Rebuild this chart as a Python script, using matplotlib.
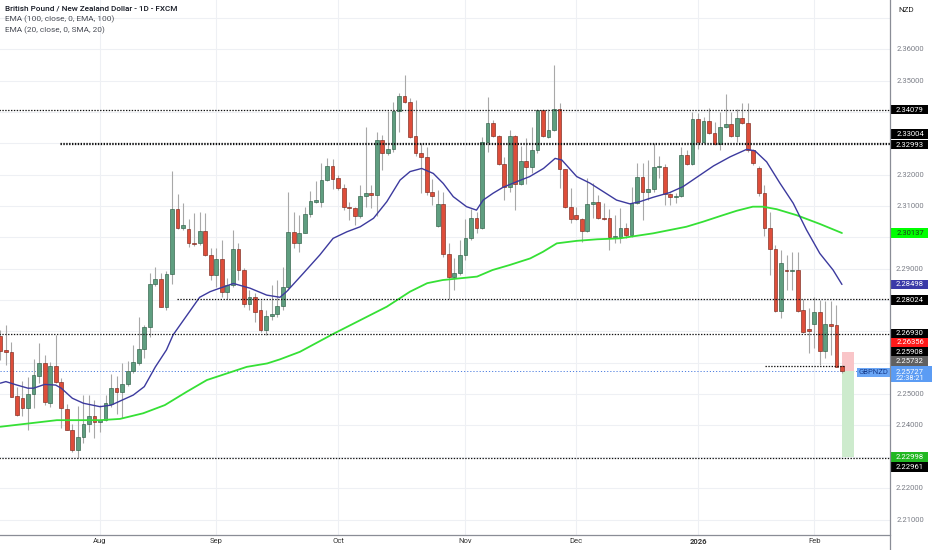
import matplotlib
matplotlib.use('Agg')
import matplotlib.pyplot as plt
import matplotlib.transforms as mtransforms
from matplotlib.patches import Rectangle
import numpy as np
import pandas as pd

plt.rcParams['font.family'] = ['Roboto', 'DejaVu Sans']

# ---------------- data ----------------
opens = [2.2685, 2.2641, 2.2633, 2.2494, 2.2489, 2.2456, 2.2499, 2.2558, 2.2598, 2.2473,
         2.2591, 2.2540, 2.2453, 2.2386, 2.2322, 2.2363, 2.2405, 2.2431, 2.2412, 2.2418,
         2.2470, 2.2519, 2.2508, 2.2531, 2.2575, 2.2600, 2.2644, 2.2715, 2.2851, 2.2866,
         2.2779, 2.2883, 2.3090, 2.3029, 2.3026, 2.2981, 2.2981, 2.3020, 2.2944, 2.2880,
         2.2930, 2.2827, 2.2848, 2.2962, 2.2896, 2.2788, 2.2811, 2.2768, 2.2705, 2.2749,
         2.2756, 2.2781, 2.2843, 2.3018, 2.2981, 2.3015, 2.3075, 2.3114, 2.3114, 2.3183,
         2.3228, 2.3188, 2.3157, 2.3098, 2.3093, 2.3068, 2.3132, 2.3141, 2.3135, 2.3311,
         2.3270, 2.3281, 2.3404, 2.3451, 2.3433, 2.3323, 2.3270, 2.3257, 2.3146, 2.3037,
         2.3107, 2.2946, 2.2875, 2.2887, 2.2944, 2.2999, 2.3063, 2.3029, 2.3305, 2.3366,
         2.3323, 2.3234, 2.3160, 2.3323, 2.3170, 2.3245, 2.3226, 2.3279, 2.3406, 2.3319,
         2.3343, 2.3410, 2.3217, 2.3098, 2.3071, 2.3058, 2.3021, 2.3107, 2.3114, 2.3061,
         2.3061, 2.3000, 2.3002, 2.3029, 2.3008, 2.3109, 2.3192, 2.3146, 2.3153, 2.3223,
         2.3224, 2.3138, 2.3130, 2.3132, 2.3263, 2.3234, 2.3377, 2.3305, 2.3372, 2.3332,
         2.3298, 2.3351, 2.3362, 2.3323, 2.3382, 2.3364, 2.3279, 2.3221, 2.3143, 2.3029,
         2.2962, 2.2766, 2.2896, 2.2892, 2.2896, 2.2768, 2.2707, 2.2724, 2.2763, 2.2639,
         2.2724, 2.2721, 2.2590]
closes = [2.2638, 2.2633, 2.2492, 2.2433, 2.2457, 2.2499, 2.2561, 2.2598, 2.2476, 2.2591,
          2.2540, 2.2455, 2.2387, 2.2322, 2.2363, 2.2406, 2.2431, 2.2411, 2.2419, 2.2471,
          2.2519, 2.2508, 2.2532, 2.2574, 2.2601, 2.2644, 2.2715, 2.2851, 2.2866, 2.2779,
          2.2883, 2.3090, 2.3029, 2.3040, 2.2981, 2.2979, 2.3020, 2.2944, 2.2880, 2.2930,
          2.2827, 2.2848, 2.2962, 2.2896, 2.2788, 2.2811, 2.2763, 2.2705, 2.2749, 2.2756,
          2.2781, 2.2843, 2.3018, 2.2981, 2.3015, 2.3075, 2.3117, 2.3119, 2.3183, 2.3228,
          2.3185, 2.3157, 2.3098, 2.3093, 2.3068, 2.3132, 2.3141, 2.3135, 2.3311, 2.3270,
          2.3281, 2.3404, 2.3451, 2.3433, 2.3321, 2.3268, 2.3257, 2.3146, 2.3132, 2.3107,
          2.2946, 2.2875, 2.2887, 2.2944, 2.2999, 2.3063, 2.3029, 2.3305, 2.3366, 2.3323,
          2.3234, 2.3160, 2.3323, 2.3170, 2.3245, 2.3226, 2.3279, 2.3406, 2.3323, 2.3343,
          2.3410, 2.3217, 2.3098, 2.3058, 2.3058, 2.3021, 2.3107, 2.3114, 2.3061, 2.3060,
          2.3000, 2.3004, 2.3029, 2.3008, 2.3109, 2.3192, 2.3146, 2.3153, 2.3226, 2.3226,
          2.3138, 2.3130, 2.3132, 2.3263, 2.3234, 2.3377, 2.3305, 2.3372, 2.3332, 2.3298,
          2.3351, 2.3362, 2.3323, 2.3382, 2.3364, 2.3279, 2.3236, 2.3143, 2.3029, 2.2962,
          2.2766, 2.2917, 2.2892, 2.2894, 2.2766, 2.2699, 2.2702, 2.2763, 2.2639, 2.2724,
          2.2717, 2.2588, 2.25727]
highs = [2.2705, 2.2721, 2.2667, 2.2523, 2.2542, 2.2555, 2.2611, 2.2664, 2.2625, 2.2603,
         2.2689, 2.2552, 2.2470, 2.2405, 2.2462, 2.2497, 2.2497, 2.2481, 2.2465, 2.2497,
         2.2564, 2.2558, 2.2599, 2.2606, 2.2657, 2.2747, 2.2721, 2.2886, 2.2905, 2.2886,
         2.2894, 2.3213, 2.3138, 2.3111, 2.3058, 2.3079, 2.3082, 2.3077, 2.2965, 2.2965,
         2.2992, 2.2870, 2.3024, 2.2981, 2.2902, 2.2832, 2.2822, 2.2800, 2.2768, 2.2848,
         2.2864, 2.2905, 2.3146, 2.3082, 2.3071, 2.3098, 2.3149, 2.3181, 2.3236, 2.3252,
         2.3249, 2.3199, 2.3170, 2.3114, 2.3097, 2.3167, 2.3353, 2.3167, 2.3337, 2.3327,
         2.3404, 2.3433, 2.3460, 2.3518, 2.3444, 2.3438, 2.3300, 2.3287, 2.3185, 2.3151,
         2.3146, 2.2981, 2.2933, 2.2992, 2.3058, 2.3090, 2.3082, 2.3319, 2.3447, 2.3375,
         2.3327, 2.3257, 2.3343, 2.3327, 2.3292, 2.3316, 2.3353, 2.3410, 2.3410, 2.3409,
         2.3550, 2.3428, 2.3218, 2.3157, 2.3098, 2.3062, 2.3189, 2.3173, 2.3135, 2.3109,
         2.3090, 2.3071, 2.3093, 2.3046, 2.3162, 2.3236, 2.3236, 2.3247, 2.3300, 2.3260,
         2.3234, 2.3142, 2.3142, 2.3289, 2.3279, 2.3401, 2.3396, 2.3385, 2.3412, 2.3369,
         2.3401, 2.3457, 2.3401, 2.3409, 2.3430, 2.3428, 2.3282, 2.3228, 2.3167, 2.3082,
         2.2976, 2.2960, 2.2944, 2.2954, 2.2954, 2.2803, 2.2774, 2.2811, 2.2800, 2.2798,
         2.2798, 2.2784, 2.2593]
lows = [2.2609, 2.2593, 2.2491, 2.2430, 2.2430, 2.2386, 2.2456, 2.2536, 2.2465, 2.2460,
        2.2536, 2.2392, 2.2386, 2.2316, 2.2296, 2.2344, 2.2379, 2.2360, 2.2379, 2.2415,
        2.2459, 2.2437, 2.2424, 2.2526, 2.2567, 2.2593, 2.2615, 2.2683, 2.2845, 2.2778,
        2.2768, 2.2851, 2.3027, 2.3024, 2.2970, 2.2972, 2.2976, 2.2941, 2.2864, 2.2843,
        2.2811, 2.2803, 2.2843, 2.2864, 2.2779, 2.2768, 2.2731, 2.2699, 2.2689, 2.2737,
        2.2747, 2.2768, 2.2832, 2.2965, 2.2954, 2.3014, 2.3066, 2.3110, 2.3098, 2.3180,
        2.3153, 2.3151, 2.3087, 2.3056, 2.3040, 2.3062, 2.3098, 2.3093, 2.3068, 2.3215,
        2.3263, 2.3273, 2.3337, 2.3428, 2.3317, 2.3260, 2.3141, 2.3135, 2.3103, 2.3034,
        2.2938, 2.2803, 2.2832, 2.2880, 2.2928, 2.2992, 2.3013, 2.3026, 2.3273, 2.3320,
        2.3231, 2.3119, 2.3146, 2.3087, 2.3167, 2.3170, 2.3205, 2.3268, 2.3319, 2.3316,
        2.3340, 2.3157, 2.3093, 2.3045, 2.3056, 2.2986, 2.3018, 2.3061, 2.3058, 2.3056,
        2.2960, 2.2981, 2.2982, 2.2997, 2.3002, 2.3107, 2.3056, 2.3119, 2.3146, 2.3189,
        2.3103, 2.3103, 2.3109, 2.3129, 2.3231, 2.3231, 2.3281, 2.3301, 2.3330, 2.3295,
        2.3279, 2.3349, 2.3319, 2.3305, 2.3362, 2.3273, 2.3231, 2.3132, 2.3005, 2.2880,
        2.2763, 2.2742, 2.2832, 2.2832, 2.2763, 2.2696, 2.2630, 2.2646, 2.2593, 2.2614,
        2.2625, 2.2586, 2.2568]

ema100_idx = [0, 10.2, 18, 21.6, 25.8, 29.7, 33.7, 37.3, 40.9, 44.5,
              48.2, 50.5, 54.1, 60.1, 69.8, 74, 77.1, 79.9, 86.1, 88.9,
              92, 95.7, 98, 100.5, 104.1, 107.8, 111.9, 117.9, 123.9, 126.9,
              130, 133, 135.9, 137.7, 140.2, 143.8, 148, 152]
ema100_val = [2.2396, 2.2417, 2.2417, 2.2421, 2.2439, 2.2465, 2.2508, 2.2545, 2.2566, 2.2587,
              2.2598, 2.2611, 2.2635, 2.2692, 2.2779, 2.2827, 2.2854, 2.2864, 2.2875, 2.2896,
              2.2912, 2.2933, 2.2954, 2.2981, 2.2989, 2.2994, 2.2997, 2.3013, 2.3034, 2.3050,
              2.3068, 2.3085, 2.3098, 2.3098, 2.3090, 2.3071, 2.3043, 2.3014]

ema20_idx = [0, 1, 3, 5, 6, 8, 10, 11, 13, 15,
             18, 20, 22, 24, 26, 28, 30, 31.2, 33.6, 36,
             37.9, 39, 42.1, 45.1, 48.1, 50.5, 51.7, 54.7, 57.7, 60.1,
             62.6, 65, 67.4, 69.8, 72.2, 74, 76.1, 78.2, 80, 81.8,
             84.2, 86, 87.2, 89, 90.8, 93.3, 95.6, 98.1, 100.2, 101.4,
             104.1, 106.5, 108.9, 111.3, 113.7, 115.5, 117.9, 120.9, 123.3, 125.8,
             128.8, 131.8, 134.8, 136.3, 138.4, 140.8, 143.2, 145.6, 148, 150.4, 152]
ema20_val = [2.2535, 2.2540, 2.2529, 2.2519, 2.2519, 2.2531, 2.2529, 2.2519, 2.2487, 2.2471,
             2.2460, 2.2465, 2.2481, 2.2497, 2.2524, 2.2587, 2.2641, 2.2689, 2.2749, 2.2809,
             2.2827, 2.2834, 2.2853, 2.2838, 2.2816, 2.2809, 2.2827, 2.2885, 2.2944, 2.2997,
             2.3018, 2.3034, 2.3061, 2.3114, 2.3183, 2.3210, 2.3220, 2.3204, 2.3172, 2.3130,
             2.3098, 2.3087, 2.3119, 2.3141, 2.3160, 2.3178, 2.3194, 2.3220, 2.3252, 2.3247,
             2.3194, 2.3173, 2.3146, 2.3119, 2.3107, 2.3114, 2.3128, 2.3143, 2.3162, 2.3192,
             2.3228, 2.3257, 2.3281, 2.3276, 2.3241, 2.3173, 2.3109, 2.3024, 2.2949, 2.2896, 2.2850]

price_ticks = [2.21, 2.22, 2.23, 2.24, 2.25, 2.26, 2.27, 2.28, 2.29, 2.30,
               2.31, 2.32, 2.33, 2.34, 2.35, 2.36, 2.37]

# horizontal levels: (price, start bar, end bar or None = to the edge)
levels = [(2.34079, -1, None), (2.33004, 10.8, None), (2.32993, 10.8, None),
          (2.28024, 31.9, None), (2.26930, -1, None), (2.25908, 138.1, 152.5),
          (2.22961, -1, None)]
last_price = 2.25727
pos_entry, pos_stop, pos_target = 2.25732, 2.26356, 2.22998
pos_start, pos_end = 152.1, 154.2

# price tags on the right scale: (price, background, text colour, shift in px)
tags = [(2.34079, '#000000', '#ffffff', 0), (2.33004, '#000000', '#ffffff', 9),
        (2.32993, '#000000', '#ffffff', -1), (2.30137, '#00ff00', '#1b3a1b', 0),
        (2.28498, '#3a3aa8', '#ffffff', 0), (2.28024, '#000000', '#ffffff', -0.7),
        (2.26930, '#000000', '#ffffff', 0.3), (2.26356, '#ff1a1a', '#ffffff', 9.3),
        (2.25908, '#000000', '#ffffff', 14), (2.25732, '#606060', '#ffffff', 10.2),
        (2.22998, '#22b822', '#ffffff', 0.2), (2.22961, '#000000', '#ffffff', -8.7)]

title = 'British Pound / New Zealand Dollar - 1D - FXCM'
legend_lines = ['EMA (100, close, 0, EMA, 100)', 'EMA (20, close, 0, SMA, 20)']
symbol = 'GBPNZD'
countdown = '22:38:21'
currency = 'NZD'

# ---------------- figure ----------------
dates = pd.bdate_range('2025-07-08', '2026-02-09')
dates = dates[~dates.isin(pd.to_datetime(['2025-12-25', '2026-01-01']))]
n = len(opens)
x = np.arange(n)

W, H = 932, 550
PR, PB = 890, 535
fig = plt.figure(figsize=(W / 100, H / 100), dpi=100)
fig.patch.set_facecolor('white')
ax = fig.add_axes([0, (H - PB) / H, PR / W, PB / H])
ymin, ymax = 2.20507, 2.37573
ax.set_ylim(ymin, ymax)
ax.set_xlim(-0.06, 160.68)
pxu = (ymax - ymin) / PB

for s in ax.spines.values():
    s.set_visible(False)
ax.set_yticks([])

# grid
for p in price_ticks:
    ax.axhline(p, color='#eef0f4', lw=0.8, zorder=0)
month_idx, month_lab = [], []
for i in range(1, len(dates)):
    if dates[i].month != dates[i - 1].month:
        month_idx.append(i)
        month_lab.append(str(dates[i].year) if dates[i].month == 1 else dates[i].strftime('%b'))
for i in month_idx:
    ax.axvline(i, color='#eef0f4', lw=0.8, zorder=0)
ax.set_xticks(month_idx)
ax.set_xticklabels(month_lab, fontsize=5.5, color='#333333')
for t, lab in zip(ax.get_xticklabels(), month_lab):
    if lab.isdigit():
        t.set_fontweight('bold')
ax.tick_params(axis='x', length=0, pad=2.2)

# candles
o = np.array(opens); c = np.array(closes); hi = np.array(highs); lo = np.array(lows)
up = c >= o
ax.vlines(x, lo, hi, color='#a8a8a8', lw=0.8, zorder=2)
body_b = np.minimum(o, c)
body_h = np.maximum(np.abs(c - o), 1.0 * pxu)
ax.bar(x[up], body_h[up], bottom=body_b[up], width=0.68, color='#5f9e80',
       edgecolor='#2f5f47', linewidth=0.45, zorder=3)
ax.bar(x[~up], body_h[~up], bottom=body_b[~up], width=0.68, color='#de4d3a',
       edgecolor='#7a2a1f', linewidth=0.45, zorder=3)

# moving averages
ax.plot(ema100_idx, ema100_val, color='#35e035', lw=1.3, zorder=4, solid_capstyle='round')
ax.plot(ema20_idx, ema20_val, color='#3c3a9e', lw=1.0, zorder=4, solid_capstyle='round')

# horizontal levels
xl = ax.get_xlim()
for p, a, b in levels:
    ax.plot([a, xl[1] if b is None else b], [p, p], color='#111111', lw=0.9,
            linestyle=(0, (1.1, 1.2)), zorder=5)
ax.axhline(last_price, color='#4f7fe0', lw=0.7, linestyle=(0, (1.2, 2.0)), zorder=1)

# position tool
ax.add_patch(Rectangle((pos_start, pos_entry), pos_end - pos_start, pos_stop - pos_entry,
                       facecolor='#f9c5c8', edgecolor='none', zorder=1))
ax.add_patch(Rectangle((pos_start, pos_target), pos_end - pos_start, pos_entry - pos_target,
                       facecolor='#cdebcd', edgecolor='none', zorder=1))
ax.set_xlim(xl)

# ---------------- right price scale ----------------
tr = mtransforms.blended_transform_factory(fig.transFigure, ax.transData)
lab_x = 910 / W
tag_pos = [p + dy * pxu for p, _, _, dy in tags] + [last_price - 1 * pxu, last_price - 7 * pxu]
for p in price_ticks:
    if p + 22 * pxu > ymax:
        continue  # hidden under the currency header
    if min(abs(p - q) for q in tag_pos) < 8.5 * pxu:
        continue  # hidden under a price tag
    ax.text(lab_x, p, f'{p:.5f}', transform=tr, ha='center', va='center',
            fontsize=5.5, color='#7a7d86', clip_on=False, zorder=6)

bx0, bx1 = 890.8 / W, 927.5 / W
bh = 9.6 * pxu
for p, bg, fg, dy in tags:
    yc = p + dy * pxu
    ax.add_patch(Rectangle((bx0, yc - bh / 2), bx1 - bx0, bh, transform=tr,
                           facecolor=bg, edgecolor='none', clip_on=False, zorder=10))
    ax.text(lab_x, yc, f'{p:.5f}', transform=tr, ha='center', va='center',
            fontsize=5.5, color=fg, clip_on=False, zorder=11)

# last price tag with countdown
yc = last_price - 1 * pxu
ax.add_patch(Rectangle((bx0, yc - 9.6 * pxu), 1 - bx0, 15.6 * pxu, transform=tr,
                       facecolor='#5b9cf4', edgecolor='none', clip_on=False, zorder=10))
ax.text(lab_x, yc + 0.3 * pxu, f'{last_price:.5f}', transform=tr, ha='center', va='center',
        fontsize=5.5, color='#ffffff', clip_on=False, zorder=11)
ax.text(lab_x, yc - 5.9 * pxu, countdown, transform=tr, ha='center', va='center',
        fontsize=5.3, color='#ffffff', clip_on=False, zorder=11)
# symbol tag
ax.add_patch(Rectangle((856.7 / W, last_price - 5.6 * pxu), (890.8 - 856.7) / W, 9.4 * pxu,
                       transform=tr, facecolor='#6aa6f6', edgecolor='none', clip_on=False, zorder=10))
ax.text(873.8 / W, last_price - 0.9 * pxu, symbol, transform=tr, ha='center', va='center',
        fontsize=5.5, color='#173c8c', clip_on=False, zorder=11)

# scale borders
fig.add_artist(plt.Line2D([PR / W + 0.0004, PR / W + 0.0004], [0, 1], color='#8a8d96', lw=0.9))
fig.add_artist(plt.Line2D([0, PR / W], [(H - PB) / H, (H - PB) / H], color='#8a8d96', lw=0.9))
# currency header
fig.text(906 / W, 1 - 10.5 / H, currency, ha='center', va='center', fontsize=5.8,
         color='#222222', zorder=21)

# legend text
fig.text(5 / W, 1 - 8.5 / H, title, ha='left', va='center', fontsize=5.85,
         color='#131722', fontweight='medium')
for k, t in enumerate(legend_lines):
    fig.text(5 / W, 1 - (19.5 + 11 * k) / H, t, ha='left', va='center', fontsize=5.95,
             color='#4a4d56')

fig.savefig('out.png', dpi=100, facecolor='white')
